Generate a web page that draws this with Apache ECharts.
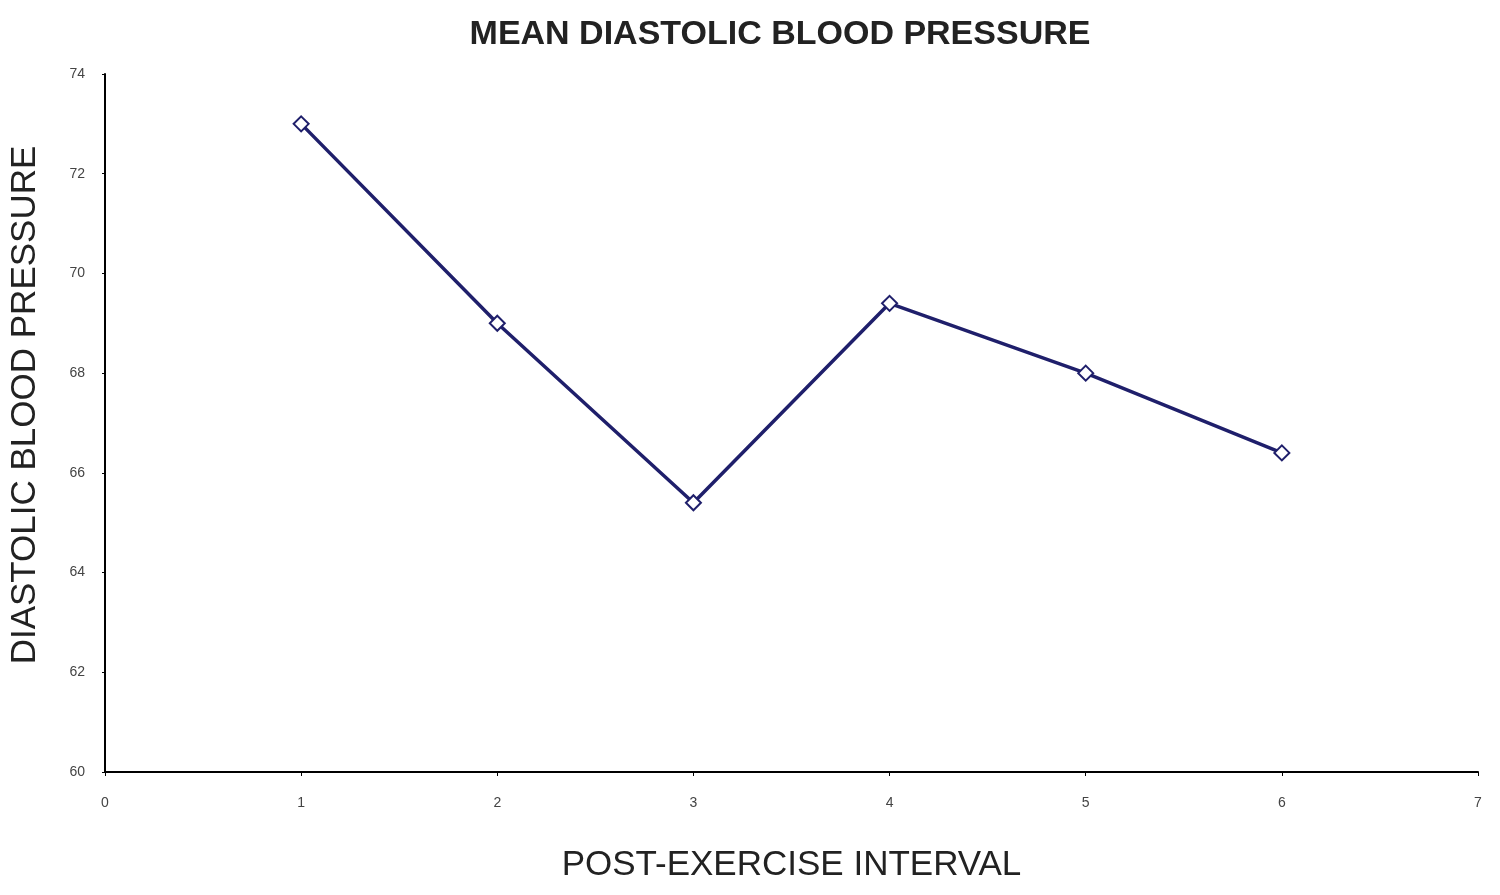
<!DOCTYPE html>
<html><head><meta charset="utf-8">
<script src="https://cdn.jsdelivr.net/npm/echarts@6/dist/echarts.min.js"></script>
<style>html,body{margin:0;padding:0;background:#fff}#c{width:1500px;height:895px}</style>
</head><body><div id="c"></div>
<script>
const intervals = [1, 2, 3, 4, 5, 6];
const meanDBP = [73, 69, 65.4, 69.4, 68, 66.4];
const chart = echarts.init(document.getElementById('c'));
chart.setOption({
  backgroundColor: '#fff',
  animation: false,
  title: {text: 'MEAN DIASTOLIC BLOOD PRESSURE', left: 775, textAlign: 'center', top: 13,
    textStyle: {fontFamily: 'Liberation Sans, Arial', fontSize: 34, fontWeight: 'bold', color: '#222'}},
  grid: {left: 105, right: 22, top: 74, bottom: 123, containLabel: false, outerBoundsMode: 'none'},
  xAxis: {type: 'value', min: 0, max: 7, interval: 1,
    name: 'POST-EXERCISE INTERVAL', nameLocation: 'middle', nameGap: 76,
    nameTextStyle: {fontFamily: 'Liberation Sans, Arial', fontSize: 35, color: '#222'},
    axisLine: {lineStyle: {color: '#000', width: 2}},
    axisTick: {show: true, length: 4, lineStyle: {color: '#000'}},
    axisLabel: {fontFamily: 'Liberation Sans, Arial', fontSize: 14, color: '#444', margin: 24},
    splitLine: {show: false}},
  yAxis: {type: 'value', min: 60, max: 74, interval: 2,
    name: 'DIASTOLIC BLOOD PRESSURE', nameLocation: 'middle', nameGap: 62,
    nameTextStyle: {fontFamily: 'Liberation Sans, Arial', fontSize: 35, color: '#222', padding: [0, 0, 0, 36]},
    axisLine: {show: true, lineStyle: {color: '#000', width: 2}},
    axisTick: {show: true, length: 3, lineStyle: {color: '#000'}},
    axisLabel: {fontFamily: 'Liberation Sans, Arial', fontSize: 14, color: '#444', margin: 20},
    splitLine: {show: false}},
  series: [{type: 'line', data: intervals.map((x, i) => [x, meanDBP[i]]),
    symbol: 'diamond', symbolSize: 15,
    lineStyle: {color: '#1f1f6b', width: 3.5},
    itemStyle: {color: '#fff', borderColor: '#1f1f6b', borderWidth: 2}}]
});
</script></body></html>
